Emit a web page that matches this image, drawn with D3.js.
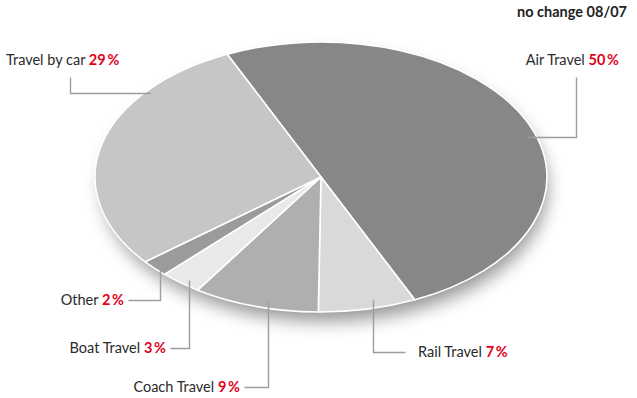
<!DOCTYPE html>
<html>
<head>
<meta charset="utf-8">
<script src="https://cdn.jsdelivr.net/npm/d3@7"></script>
<style>
  html, body { margin: 0; padding: 0; background: #fff; }
  svg { display: block; }
  text { font-family: Lato, "Open Sans", sans-serif; }
</style>
</head>
<body>
<svg id="chart" width="637" height="398"></svg>
<script>
// Share of travel modes (percent)
const categories = ["Air Travel", "Rail Travel", "Coach Travel", "Boat Travel", "Other", "Travel by car"];
const shares = [50, 7, 9, 3, 2, 29];
const colors = ["#878787", "#d9d9da", "#afafb0", "#e8e9e8", "#9b9b9c", "#c6c6c7"];
const title = "no change 08/07";

const W = 637, H = 398;
const cx = 321, cy = 177, rx = 226, ry = 135;
const startDeg = -24.5;

const svg = d3.select("#chart");
const defs = svg.append("defs");
defs.append("filter").attr("id", "soft")
  .attr("x", "-20%").attr("y", "-20%").attr("width", "140%").attr("height", "150%")
  .append("feGaussianBlur").attr("stdDeviation", 9);

// Label layout: where each caption sits and how its leader is routed
const layout = {
  "Air Travel":    { tx: 619, ty: 65,  anchor: "end",   deg: 72,    r: 0.96, route: "hv", elbowX: 576, lineY: 77 },
  "Travel by car": { tx: 6,   ty: 65,  anchor: "start", deg: 309.4, r: 0.98, route: "hv", elbowX: 70,  lineY: 77 },
  "Other":         { tx: 124, ty: 305, anchor: "end",   deg: 228.0, r: 0.96, route: "vh", endX: 128 },
  "Boat Travel":   { tx: 166, ty: 353, anchor: "end",   deg: 217.4, r: 0.96, route: "vh", endX: 170 },
  "Coach Travel":  { tx: 240, ty: 392, anchor: "end",   deg: 194.4, r: 0.94, route: "vh", endX: 244 },
  "Rail Travel":   { tx: 418, ty: 357, anchor: "start", deg: 165.8, r: 0.94, route: "vh", endX: 405 }
};

const data = categories.map((c, i) => ({ name: c, value: shares[i], color: colors[i] }));
const pie = d3.pie().sort(null).value(d => d.value)
  .startAngle(startDeg * Math.PI / 180)
  .endAngle((startDeg + 360) * Math.PI / 180);
const arcs = pie(data);
const arcGen = d3.arc().innerRadius(0).outerRadius(1);

// Soft drop shadow beneath the disc
svg.append("ellipse")
  .attr("cx", cx + 4).attr("cy", cy + 11)
  .attr("rx", rx - 4).attr("ry", ry - 2)
  .attr("fill", "#000").attr("opacity", 0.42)
  .attr("filter", "url(#soft)");

const g = svg.append("g").attr("transform", `translate(${cx},${cy}) scale(${rx},${ry})`);
g.selectAll("path").data(arcs).join("path")
  .attr("d", arcGen)
  .attr("fill", d => d.data.color)
  .attr("stroke", "#fff")
  .attr("stroke-width", 1.6)
  .attr("stroke-linejoin", "round")
  .attr("vector-effect", "non-scaling-stroke");

// Point on the elliptical disc for a given clockwise angle from top
function onDisc(deg, r) {
  const a = deg * Math.PI / 180;
  return [cx + Math.sin(a) * rx * r, cy - Math.cos(a) * ry * r];
}

const leaders = svg.append("g")
  .attr("fill", "none").attr("stroke", "#9d9d9d").attr("stroke-width", 1.4);

arcs.forEach(d => {
  const L = layout[d.data.name];
  const [px, py] = onDisc(L.deg, L.r);
  const pts = L.route === "vh"
    ? [[px, py], [px, L.ty - 5], [L.endX, L.ty - 5]]
    : [[px, py], [L.elbowX, py], [L.elbowX, L.lineY]];
  leaders.append("path").attr("d", d3.line()(pts.map(p => [Math.round(p[0]) + 0.5, Math.round(p[1]) + 0.5])));

  const t = svg.append("text")
    .attr("x", L.tx).attr("y", L.ty)
    .attr("text-anchor", L.anchor)
    .attr("font-size", 14.5)
    .attr("fill", "#2b2b2b");
  t.append("tspan").text(d.data.name + " ");
  t.append("tspan").attr("fill", "#e2001a").attr("font-weight", 700)
    .text(d.data.value + "\u2009%");
});

svg.append("text")
  .attr("x", 627).attr("y", 17)
  .attr("text-anchor", "end")
  .attr("font-size", 14.5).attr("font-weight", 700)
  .attr("fill", "#222")
  .text(title);
</script>
</body>
</html>
